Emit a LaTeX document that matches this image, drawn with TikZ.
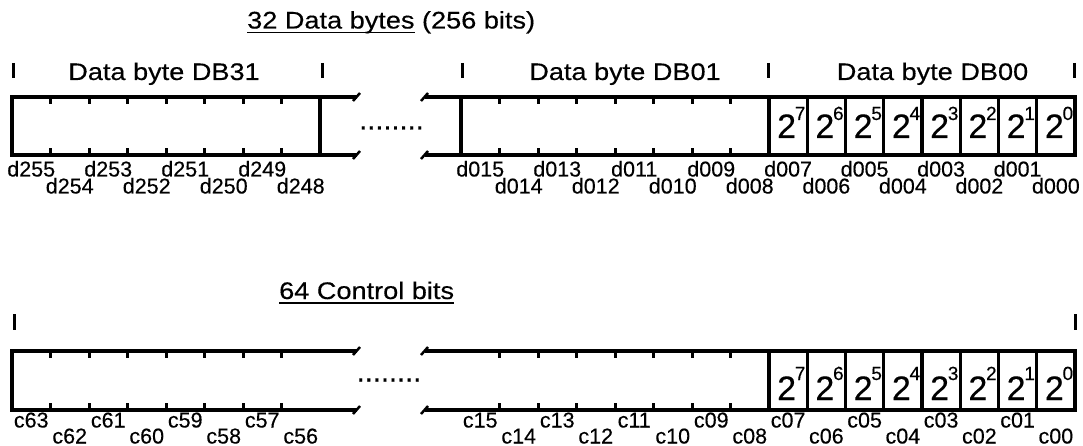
\documentclass[tikz,border=0pt]{standalone}
\usepackage{fontspec}
\setmainfont{Liberation Sans}[FakeBold=0.3]
\newcommand{\myStretch}[1]{\scalebox{1.13}[1]{#1}}
\newcommand{\myUline}[1]{\setbox0=\hbox{#1}\rlap{\rule[-4.8pt]{\wd0}{1.5pt}}\box0\relax}
\begin{document}
\begin{tikzpicture}[x=1pt,y=-1pt,
  frame/.style={line width=3.1pt, line join=miter},
  bittick/.style={line width=3pt},
  slash/.style={line width=2.5pt},
  sepbar/.style={line width=3pt},
  mainlbl/.style={font=\fontsize{24}{28}\selectfont, inner sep=0pt, anchor=base},
  bitlbl/.style={font=\fontsize{21.5}{24}\selectfont, inner sep=0pt, anchor=base},
  basetwo/.style={font=\fontsize{34}{38}\selectfont, inner sep=0pt, anchor=base},
  expo/.style={font=\fontsize{19}{22}\selectfont, inner sep=0pt, anchor=base west},
  dots/.style={font=\fontsize{29}{32}\selectfont, inner sep=0pt, anchor=base}]
\path[use as bounding box] (0,0) rectangle (1083,446);

% ================= data bytes =================
\node[mainlbl, anchor=base west] (title1) at (247,28.5) {\myStretch{\myUline{32 Data bytes} (256 bits)}};
\foreach \x in {13,322,462,768,1074} \draw[sepbar] (\x,63) -- (\x,78);
\node[mainlbl] (db31) at (164,80) {\myStretch{Data byte DB31}};
\node[mainlbl] (db01) at (625,80) {\myStretch{Data byte DB01}};
\node[mainlbl] (db00) at (932.5,80) {\myStretch{Data byte DB00}};

\draw[frame] (356.5,97) -- (12,97) -- (12,155) -- (356.5,155);
\draw[frame] (320,97) -- (320,155);
\draw[frame] (424.5,97) -- (1075,97) -- (1075,155) -- (424.5,155);
\draw[frame] (461,97) -- (461,155);
\foreach \k in {0,...,7} \draw[frame] ({769+38.25*\k},97) -- ++(0,58);
\foreach \k in {1,...,7} {
  \draw[bittick] ({12+38.5*\k},97) -- ++(0,7);
  \draw[bittick] ({12+38.5*\k},155) -- ++(0,-7);
  \draw[bittick] ({461+38.5*\k},97) -- ++(0,7);
  \draw[bittick] ({461+38.5*\k},155) -- ++(0,-7);
}
\foreach \c in {356.5,424.5} \foreach \y in {97,155}
  \draw[slash] ({\c-3.5},{\y+4}) -- ({\c+3.5},{\y-4});
\node[dots] (dots1) at (391.5,129.5) {........};

\foreach \e [count=\k from 0] in {7,6,5,4,3,2,1,0} {
  \node[basetwo] (dp\e) at ({769+38.25*(\k+0.5)-1.5},138) {2};
  \node[expo] (de\e) at ({769+38.25*(\k+0.5)+6.5},120) {\e};
}

\foreach \n [count=\k from 0, evaluate=\k as \yy using {176.5+17*mod(\k,2)}] in {d255,d254,d253,d252,d251,d250,d249,d248}
  \node[bitlbl] (\n) at ({12+38.5*(\k+0.5)},\yy) {\n};
\foreach \n [count=\k from 0, evaluate=\k as \yy using {176.5+17*mod(\k,2)}] in {d015,d014,d013,d012,d011,d010,d009,d008}
  \node[bitlbl] (\n) at ({461+38.5*(\k+0.5)},\yy) {\n};
\foreach \n [count=\k from 0, evaluate=\k as \yy using {176.5+17*mod(\k,2)}] in {d007,d006,d005,d004,d003,d002,d001,d000}
  \node[bitlbl] (\n) at ({769+38.25*(\k+0.5)},\yy) {\n};

% ================= control bits =================
\node[mainlbl, anchor=base west] (title2) at (279,299) {\myStretch{\myUline{64 Control bits}}};
\foreach \x in {14,1075} \draw[sepbar] (\x,314) -- (\x,330);

\draw[frame] (356.5,351) -- (12,351) -- (12,410) -- (356.5,410);
\draw[frame] (424.5,351) -- (1075,351) -- (1075,410) -- (424.5,410);
\foreach \k in {0,...,7} \draw[frame] ({769+38.25*\k},351) -- ++(0,59);
\foreach \k in {1,...,7} {
  \draw[bittick] ({12+38.5*\k},351) -- ++(0,7);
  \draw[bittick] ({12+38.5*\k},410) -- ++(0,-7);
  \draw[bittick] ({461+38.5*\k},351) -- ++(0,7);
  \draw[bittick] ({461+38.5*\k},410) -- ++(0,-7);
}
\foreach \c in {356.5,424.5} \foreach \y in {351,410}
  \draw[slash] ({\c-3.5},{\y+4}) -- ({\c+3.5},{\y-4});
\node[dots] (dots2) at (389,381.5) {........};

\foreach \e [count=\k from 0] in {7,6,5,4,3,2,1,0} {
  \node[basetwo] (cp\e) at ({769+38.25*(\k+0.5)-1.5},400) {2};
  \node[expo] (ce\e) at ({769+38.25*(\k+0.5)+6.5},380) {\e};
}

\foreach \n [count=\k from 0, evaluate=\k as \yy using {427.5+16*mod(\k,2)}] in {c63,c62,c61,c60,c59,c58,c57,c56}
  \node[bitlbl] (\n) at ({12+38.5*(\k+0.5)},\yy) {\n};
\foreach \n [count=\k from 0, evaluate=\k as \yy using {427.5+16*mod(\k,2)}] in {c15,c14,c13,c12,c11,c10,c09,c08}
  \node[bitlbl] (\n) at ({461+38.5*(\k+0.5)},\yy) {\n};
\foreach \n [count=\k from 0, evaluate=\k as \yy using {427.5+16*mod(\k,2)}] in {c07,c06,c05,c04,c03,c02,c01,c00}
  \node[bitlbl] (\n) at ({769+38.25*(\k+0.5)},\yy) {\n};
\end{tikzpicture}
\end{document}
